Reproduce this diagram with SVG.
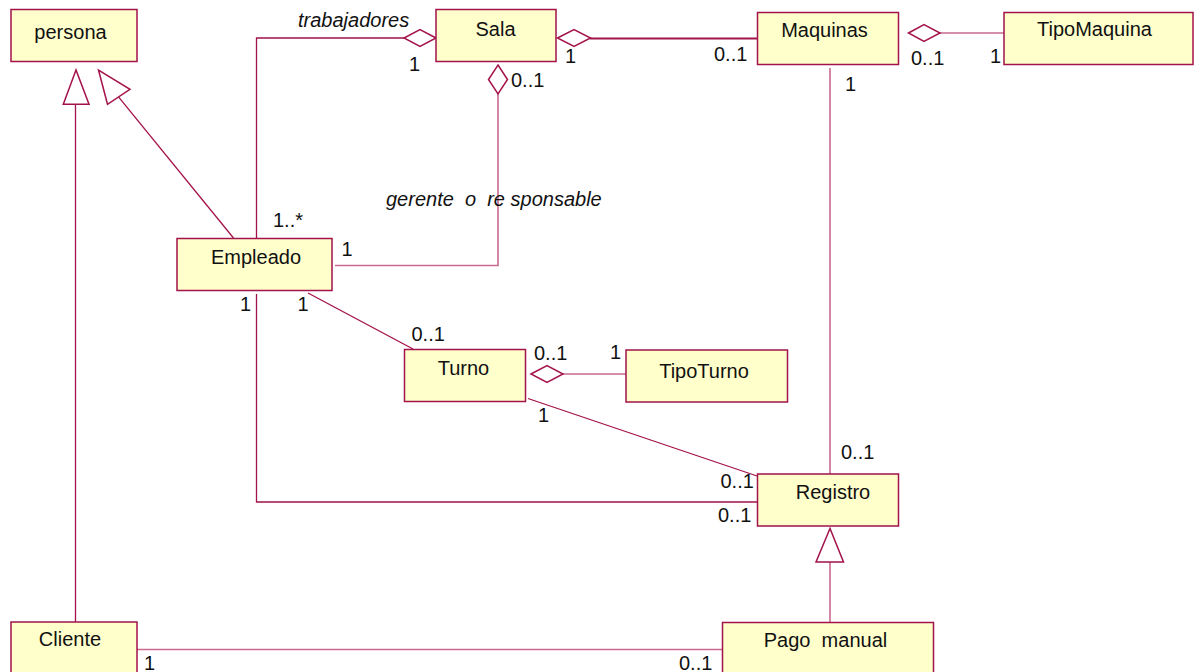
<svg xmlns="http://www.w3.org/2000/svg" width="1201" height="672" viewBox="0 0 1201 672">
  <style>
    .cls rect { fill: #ffffcc; stroke: #a3124a; stroke-width: 1.5; }
    .cls text { font-family: "Liberation Sans", Arial, sans-serif; font-size: 20px; fill: #111; text-anchor: middle; }
    .lbl { font-family: "Liberation Sans", Arial, sans-serif; font-size: 20px; fill: #111; }
    .role { font-family: "Liberation Sans", Arial, sans-serif; font-size: 20px; fill: #111; font-style: italic; }
    .ln { fill: none; stroke: #a3124a; stroke-width: 1.3; }
    .lt { fill: none; stroke: #c96a8e; stroke-width: 1.6; }
    .dia { fill: #ffffff; stroke: #a3124a; stroke-width: 1.5; }
    .tri { fill: #ffffff; stroke: #a3124a; stroke-width: 1.5; }
  </style>

  <rect width="1201" height="672" fill="#ffffff"/>

  <!-- associations, aggregations and generalizations -->
  <g id="connectors">
    <!-- Sala <>- Empleado (trabajadores) -->
    <polyline class="ln" points="404,38 256.5,38 256.5,238"/>
    <polygon class="dia" points="436,38 420,29.5 404,38 420,46.5"/>

    <!-- Sala <>- Maquinas -->
    <line x1="590" y1="38.5" x2="757" y2="38.5" stroke="#a3124a" stroke-width="2.2"/>
    <polygon class="dia" points="557.5,38 574,29.5 590.5,38 574,46.5"/>

    <!-- Maquinas <>- TipoMaquina -->
    <line class="lt" x1="940" y1="33" x2="1004" y2="33"/>
    <polygon class="dia" points="908.5,33 924,24.5 940,33 924,41.5"/>

    <!-- Sala <>- Empleado (gerente o responsable) -->
    <polyline class="lt" points="498,94 498,265.5 335,265.5"/>
    <polygon class="dia" points="498,65 507.5,79.5 498,94 488.5,79.5"/>

    <!-- Empleado -|> persona -->
    <line class="ln" x1="233.5" y1="238" x2="118.5" y2="96.8"/>
    <polygon class="tri" points="98.5,70 107.5,104.3 130,89.3"/>

    <!-- Cliente -|> persona -->
    <line class="ln" x1="75.5" y1="622" x2="75.5" y2="104.3"/>
    <polygon class="tri" points="76,70 63.3,104.3 89,104.3"/>

    <!-- Empleado - Turno -->
    <line class="ln" x1="308" y1="293" x2="413" y2="349"/>

    <!-- Empleado - Registro -->
    <polyline class="ln" points="256.5,294 256.5,502 757,502"/>

    <!-- Turno - Registro -->
    <line class="ln" x1="528" y1="398.5" x2="757" y2="476"/>

    <!-- Turno <>- TipoTurno -->
    <line class="lt" x1="563" y1="374" x2="626" y2="374"/>
    <polygon class="dia" points="531,374 547,365.5 563,374 547,382.5"/>

    <!-- Maquinas - Registro -->
    <line class="lt" x1="830" y1="68" x2="830" y2="474"/>

    <!-- Pago manual -|> Registro -->
    <line class="lt" x1="830" y1="562" x2="830" y2="622"/>
    <polygon class="tri" points="830,528.5 816,562 843.5,562"/>

    <!-- Cliente - Pago manual -->
    <line class="lt" x1="137" y1="649.5" x2="722" y2="649.5"/>

    <!-- role names and multiplicities -->
    <text class="role" x="298" y="26.5">trabajadores</text>
    <text class="lbl" x="409" y="71">1</text>
    <text class="lbl" x="273" y="227">1..*</text>
    <text class="lbl" x="565" y="63">1</text>
    <text class="lbl" x="714" y="61">0..1</text>
    <text class="lbl" x="911" y="65">0..1</text>
    <text class="lbl" x="990" y="63">1</text>
    <text class="lbl" x="511" y="87">0..1</text>
    <text class="role" x="386" y="206" xml:space="preserve">gerente  o  re sponsable</text>
    <text class="lbl" x="341.5" y="256">1</text>
    <text class="lbl" x="845" y="91">1</text>
    <text class="lbl" x="240" y="311">1</text>
    <text class="lbl" x="297.5" y="311">1</text>
    <text class="lbl" x="411.5" y="341">0..1</text>
    <text class="lbl" x="534" y="359.5">0..1</text>
    <text class="lbl" x="610" y="358.5">1</text>
    <text class="lbl" x="538" y="422">1</text>
    <text class="lbl" x="841" y="458.5">0..1</text>
    <text class="lbl" x="720.5" y="487.5">0..1</text>
    <text class="lbl" x="718" y="522">0..1</text>
    <text class="lbl" x="144" y="669.5">1</text>
    <text class="lbl" x="679" y="669.5">0..1</text>
  </g>

  <!-- classes -->
  <g id="persona" class="cls">
    <rect x="11" y="9.5" width="126" height="52"/>
    <text x="70.5" y="39">persona</text>
  </g>
  <g id="sala" class="cls">
    <rect x="436" y="9.5" width="120" height="52"/>
    <text x="495.5" y="36">Sala</text>
  </g>
  <g id="maquinas" class="cls">
    <rect x="757.5" y="12.5" width="141" height="52"/>
    <text x="824.5" y="37">Maquinas</text>
  </g>
  <g id="tipomaquina" class="cls">
    <rect x="1004" y="12.5" width="189" height="52"/>
    <text x="1094.5" y="36">TipoMaquina</text>
  </g>
  <g id="empleado" class="cls">
    <rect x="177" y="238.5" width="155" height="52"/>
    <text x="256" y="264">Empleado</text>
  </g>
  <g id="turno" class="cls">
    <rect x="404.5" y="349.5" width="121" height="52"/>
    <text x="463.5" y="375">Turno</text>
  </g>
  <g id="tipoturno" class="cls">
    <rect x="626" y="350" width="161.5" height="52"/>
    <text x="704" y="377.5">TipoTurno</text>
  </g>
  <g id="registro" class="cls">
    <rect x="757.5" y="474" width="141" height="52"/>
    <text x="833" y="499">Registro</text>
  </g>
  <g id="cliente" class="cls">
    <rect x="11" y="622" width="126" height="60"/>
    <text x="70" y="646">Cliente</text>
  </g>
  <g id="pagomanual" class="cls">
    <rect x="722.5" y="622.5" width="211" height="60"/>
    <text x="825.5" y="646.5" xml:space="preserve">Pago  manual</text>
  </g>
</svg>
